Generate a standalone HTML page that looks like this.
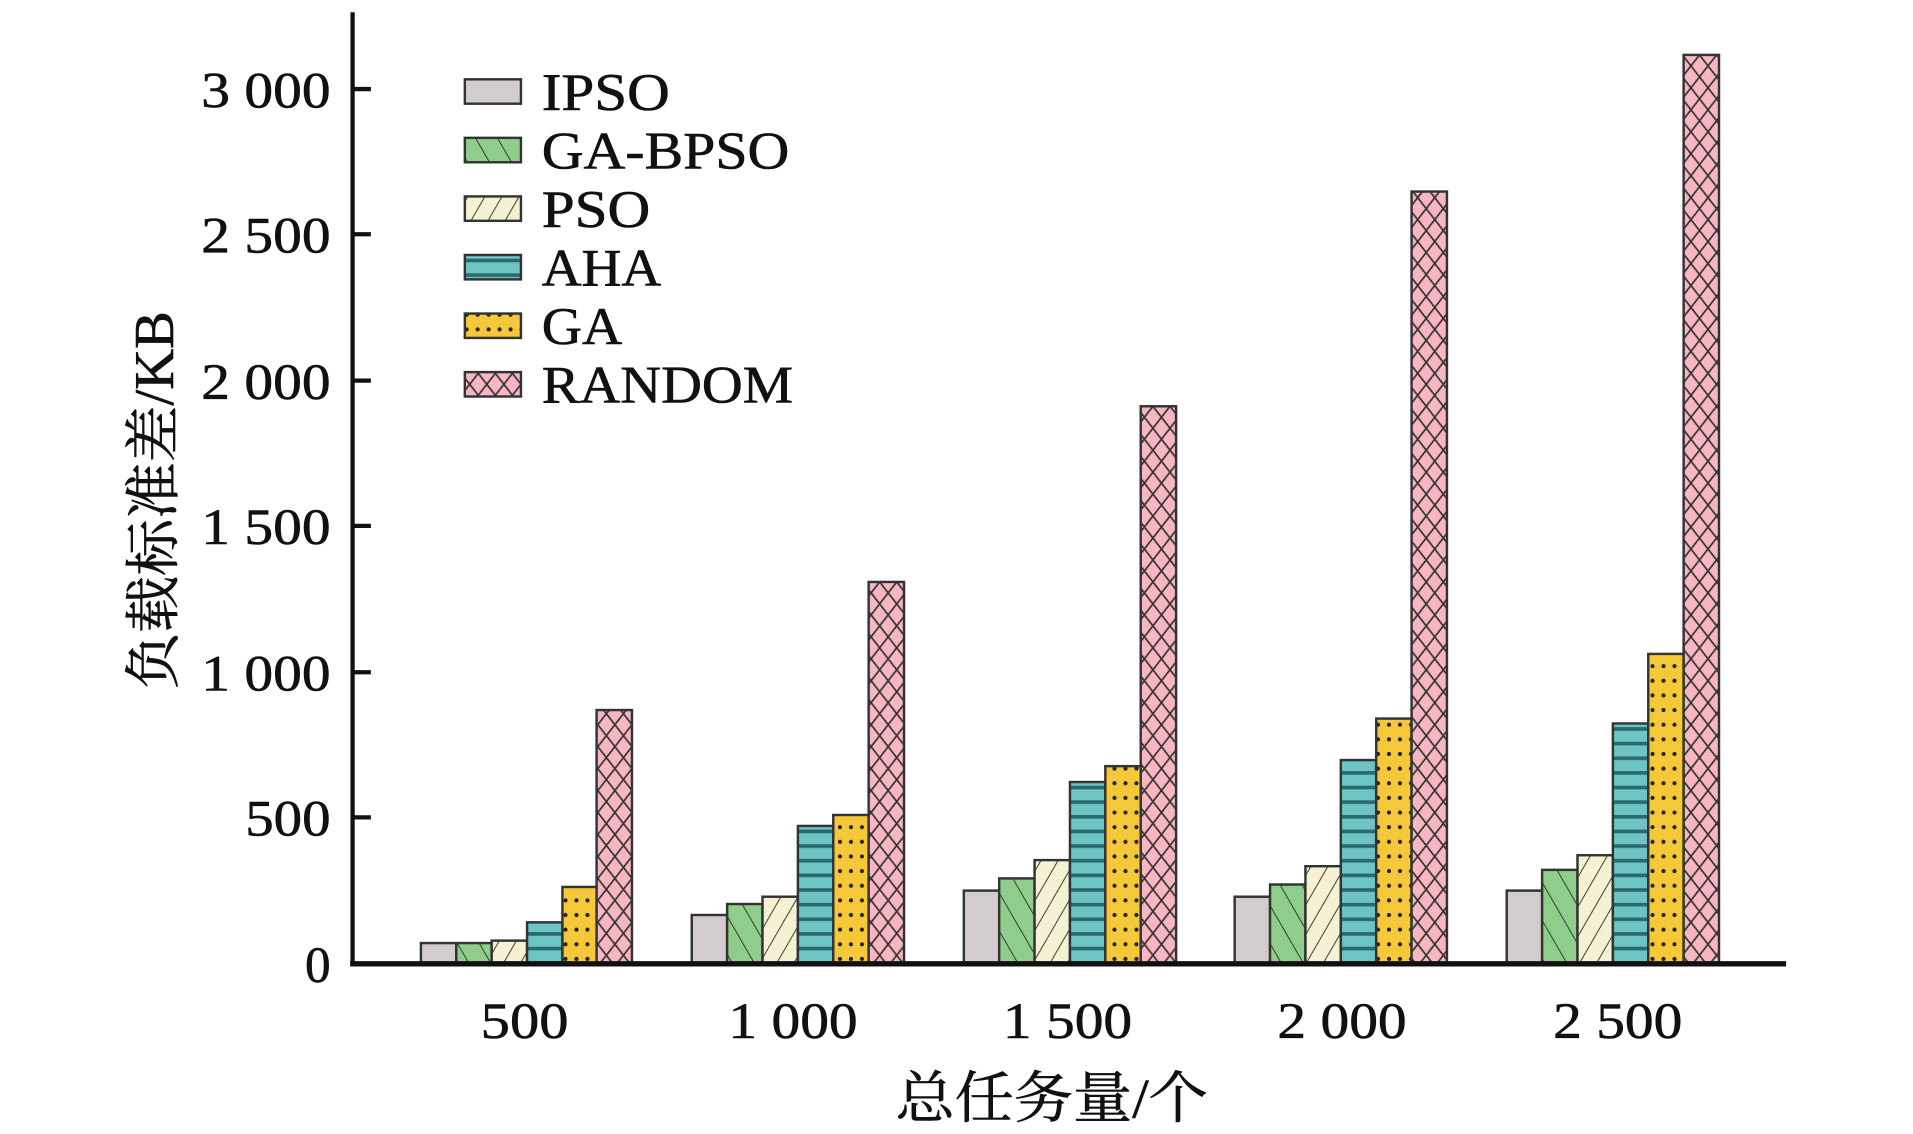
<!DOCTYPE html>
<html><head><meta charset="utf-8"><style>
html,body{margin:0;padding:0;background:#fff;}
svg{display:block;}
text{font-family:"Liberation Serif","Noto Serif CJK SC","Noto Sans CJK SC",serif;fill:#111;stroke:#111;stroke-width:0.5;}
</style></head><body>
<svg width="1913" height="1134" viewBox="0 0 1568 929.5" preserveAspectRatio="none" xmlns="http://www.w3.org/2000/svg">
<defs>
<pattern id="pg" patternUnits="userSpaceOnUse" width="18" height="30" patternTransform="skewX(30)"><rect width="18" height="30" fill="#8fcd8a"/><line x1="0" y1="0" x2="0" y2="30" stroke="#333" stroke-width="1.8"/></pattern>
<pattern id="pp" patternUnits="userSpaceOnUse" width="14" height="30" patternTransform="skewX(-30)"><rect width="14" height="30" fill="#f6f1d3"/><line x1="0" y1="0" x2="0" y2="30" stroke="#333" stroke-width="1.8"/></pattern>
<pattern id="pa" patternUnits="userSpaceOnUse" width="10" height="12"><rect width="10" height="12" fill="#6cc5c4"/><rect y="8" width="10" height="3" fill="#2b6a6a"/></pattern>
<pattern id="pd" patternUnits="userSpaceOnUse" width="9" height="12"><rect width="9" height="12" fill="#f4c838"/><circle cx="4.5" cy="6" r="1.7" fill="#222"/></pattern>
<pattern id="pr" patternUnits="userSpaceOnUse" width="14" height="18"><rect width="14" height="18" fill="#f8b5c2"/><path d="M0 0L14 18M14 0L0 18" stroke="#333" stroke-width="1.4"/></pattern>
</defs>
<g stroke="#333" stroke-width="2">
<rect x="345" y="773" width="29" height="17" fill="#d3cccc"/>
<rect x="374" y="773" width="29" height="17" fill="url(#pg)"/>
<rect x="403" y="771" width="29" height="19" fill="url(#pp)"/>
<rect x="432" y="756" width="29" height="34" fill="url(#pa)"/>
<rect x="461" y="727" width="29" height="63" fill="url(#pd)"/>
<rect x="489" y="582" width="29" height="208" fill="url(#pr)"/>
<rect x="567" y="750" width="29" height="40" fill="#d3cccc"/>
<rect x="596" y="741" width="29" height="49" fill="url(#pg)"/>
<rect x="625" y="735" width="29" height="55" fill="url(#pp)"/>
<rect x="654" y="677" width="29" height="113" fill="url(#pa)"/>
<rect x="683" y="668" width="29" height="122" fill="url(#pd)"/>
<rect x="712" y="477" width="29" height="313" fill="url(#pr)"/>
<rect x="790" y="730" width="29" height="60" fill="#d3cccc"/>
<rect x="819" y="720" width="29" height="70" fill="url(#pg)"/>
<rect x="848" y="705" width="29" height="85" fill="url(#pp)"/>
<rect x="877" y="641" width="29" height="149" fill="url(#pa)"/>
<rect x="906" y="628" width="29" height="162" fill="url(#pd)"/>
<rect x="935" y="333" width="29" height="457" fill="url(#pr)"/>
<rect x="1012" y="735" width="29" height="55" fill="#d3cccc"/>
<rect x="1041" y="725" width="29" height="65" fill="url(#pg)"/>
<rect x="1070" y="710" width="29" height="80" fill="url(#pp)"/>
<rect x="1099" y="623" width="29" height="167" fill="url(#pa)"/>
<rect x="1128" y="589" width="29" height="201" fill="url(#pd)"/>
<rect x="1157" y="157" width="29" height="633" fill="url(#pr)"/>
<rect x="1235" y="730" width="29" height="60" fill="#d3cccc"/>
<rect x="1264" y="713" width="29" height="77" fill="url(#pg)"/>
<rect x="1293" y="701" width="29" height="89" fill="url(#pp)"/>
<rect x="1322" y="593" width="29" height="197" fill="url(#pa)"/>
<rect x="1351" y="536" width="29" height="254" fill="url(#pd)"/>
<rect x="1380" y="45" width="29" height="745" fill="url(#pr)"/>
</g>
<line x1="289" y1="10" x2="289" y2="792" stroke="#111" stroke-width="3.5"/>
<line x1="287" y1="790" x2="1464" y2="790" stroke="#111" stroke-width="4.5"/>
<g stroke="#111" stroke-width="3.5">
<line x1="289" y1="73" x2="304" y2="73"/><line x1="289" y1="192" x2="304" y2="192"/>
<line x1="289" y1="312" x2="304" y2="312"/><line x1="289" y1="431" x2="304" y2="431"/>
<line x1="289" y1="551" x2="304" y2="551"/><line x1="289" y1="670" x2="304" y2="670"/>
</g>
<g font-size="42" text-anchor="end">
<text x="271" y="88" textLength="106" lengthAdjust="spacingAndGlyphs">3 000</text>
<text x="271" y="207" textLength="106" lengthAdjust="spacingAndGlyphs">2 500</text>
<text x="271" y="327" textLength="106" lengthAdjust="spacingAndGlyphs">2 000</text>
<text x="271" y="446" textLength="106" lengthAdjust="spacingAndGlyphs">1 500</text>
<text x="271" y="566" textLength="106" lengthAdjust="spacingAndGlyphs">1 000</text>
<text x="271" y="685" textLength="70" lengthAdjust="spacingAndGlyphs">500</text>
<text x="271" y="805">0</text>
</g>
<g font-size="42" text-anchor="middle">
<text x="430" y="851" textLength="72" lengthAdjust="spacingAndGlyphs">500</text>
<text x="650" y="851" textLength="106" lengthAdjust="spacingAndGlyphs">1 000</text>
<text x="875" y="851" textLength="106" lengthAdjust="spacingAndGlyphs">1 500</text>
<text x="1100" y="851" textLength="106" lengthAdjust="spacingAndGlyphs">2 000</text>
<text x="1326" y="851" textLength="106" lengthAdjust="spacingAndGlyphs">2 500</text>
<text x="862" y="916" font-size="46" textLength="256" lengthAdjust="spacingAndGlyphs">总任务量/个</text>
<text transform="translate(142,410) rotate(-90)" font-size="46" textLength="310" lengthAdjust="spacingAndGlyphs">负载标准差/KB</text>
</g>
<g stroke="#333" stroke-width="2">
<rect x="381" y="65" width="46" height="20" fill="#d3cccc"/>
<rect x="381" y="113" width="46" height="20" fill="url(#pg)"/>
<rect x="381" y="161" width="46" height="20" fill="url(#pp)"/>
<rect x="381" y="209" width="46" height="20" fill="url(#pa)"/>
<rect x="381" y="257" width="46" height="20" fill="url(#pd)"/>
<rect x="381" y="305" width="46" height="20" fill="url(#pr)"/>
</g>
<g font-size="43">
<text x="444" y="90" textLength="105" lengthAdjust="spacingAndGlyphs">IPSO</text>
<text x="444" y="138" textLength="203" lengthAdjust="spacingAndGlyphs">GA-BPSO</text>
<text x="444" y="186" textLength="89" lengthAdjust="spacingAndGlyphs">PSO</text>
<text x="444" y="234" textLength="98" lengthAdjust="spacingAndGlyphs">AHA</text>
<text x="444" y="282" textLength="66" lengthAdjust="spacingAndGlyphs">GA</text>
<text x="444" y="330" textLength="206" lengthAdjust="spacingAndGlyphs">RANDOM</text>
</g>
</svg>
</body></html>
